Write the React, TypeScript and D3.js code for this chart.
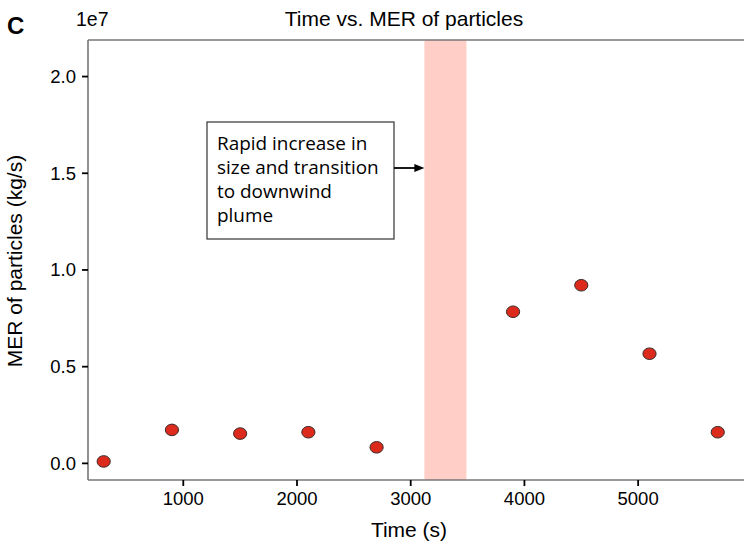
import React from "react";
import * as d3 from "d3";

const times = [300, 900, 1500, 2100, 2700, 3900, 4500, 5100, 5700];
const merValues = [0.01e7, 0.173e7, 0.154e7, 0.161e7, 0.083e7, 0.784e7, 0.921e7, 0.567e7, 0.161e7];
const xTicks = [1000, 2000, 3000, 4000, 5000];
const yTicks = [0, 0.5e7, 1.0e7, 1.5e7, 2.0e7];
const bandRange = [3120, 3490];
const annotationLines = ["Rapid increase in", "size and transition", "to downwind", "plume"];

const W = 744;
const H = 547;
const left = 88, top = 40, bottom = 480;

export default function App() {
  const x = d3.scaleLinear().domain([162, 5931]).range([left, W]);
  const y = d3.scaleLinear().domain([-0.086e7, 2.189e7]).range([bottom, top]);
  const axisFont = "'Liberation Sans', Arial, sans-serif";
  const bx0 = 207, by0 = 122, bx1 = 394, by1 = 239;
  const arrowY = 168;
  const bandX0 = x(bandRange[0]);
  return (
    <svg width={W} height={H} style={{ position: "absolute", left: 0, top: 0, background: "#fff" }}>
      <rect x={0} y={0} width={W} height={H} fill="#fff" />
      <rect x={x(bandRange[0])} y={top} width={x(bandRange[1]) - x(bandRange[0])} height={bottom - top} fill="#ffcfc7" />
      <line x1={left} y1={top} x2={W} y2={top} stroke="#777" strokeWidth={1.6} />
      <line x1={left} y1={bottom} x2={W} y2={bottom} stroke="#777" strokeWidth={1.6} />
      <line x1={left} y1={top} x2={left} y2={bottom} stroke="#777" strokeWidth={1.6} />
      {yTicks.map((t) => (
        <g key={t}>
          <line x1={left - 6} x2={left} y1={y(t)} y2={y(t)} stroke="#000" strokeWidth={1.8} />
          <text x={left - 12} y={y(t)} dy="0.35em" textAnchor="end" fontFamily={axisFont} fontSize={18.5} fill="#000">
            {(t / 1e7).toFixed(1)}
          </text>
        </g>
      ))}
      {xTicks.map((t) => (
        <g key={t}>
          <line x1={x(t)} x2={x(t)} y1={bottom} y2={bottom + 6} stroke="#000" strokeWidth={1.8} />
          <text x={x(t)} y={505} textAnchor="middle" fontFamily={axisFont} fontSize={18.5} fill="#000">
            {t}
          </text>
        </g>
      ))}
      {times.map((t, i) => (
        <ellipse key={t} cx={x(t)} cy={y(merValues[i])} rx={6.6} ry={5.8} fill="#dc2a1c" stroke="#3a2a28" strokeWidth={1} />
      ))}
      <rect x={bx0} y={by0} width={bx1 - bx0} height={by1 - by0} fill="#fff" stroke="#333" strokeWidth={1.2} />
      {annotationLines.map((l, i) => (
        <text key={i} transform={`translate(217,${149.5 + i * 24.3}) scale(1.07,1)`} fontFamily="'Open Sans', sans-serif" fontSize={17.7} fill="#000">
          {l}
        </text>
      ))}
      <line x1={bx1} y1={arrowY} x2={bandX0 - 8} y2={arrowY} stroke="#000" strokeWidth={1.8} />
      <path d={`M${bandX0},${arrowY} L${bandX0 - 10},${arrowY - 4} L${bandX0 - 10},${arrowY + 4} Z`} fill="#000" />
      <text x={7} y={34} fontFamily={axisFont} fontWeight="bold" fontSize={24} fill="#000">C</text>
      <text x={76} y={26} fontFamily={axisFont} fontSize={19.5} fill="#000">1e7</text>
      <text x={404} y={26} textAnchor="middle" fontFamily={axisFont} fontSize={21} fill="#000">Time vs. MER of particles</text>
      <text x={409} y={537} textAnchor="middle" fontFamily={axisFont} fontSize={21} fill="#000">Time (s)</text>
      <text transform={`translate(22,261) rotate(-90)`} textAnchor="middle" fontFamily={axisFont} fontSize={21} fill="#000">
        MER of particles (kg/s)
      </text>
    </svg>
  );
}
